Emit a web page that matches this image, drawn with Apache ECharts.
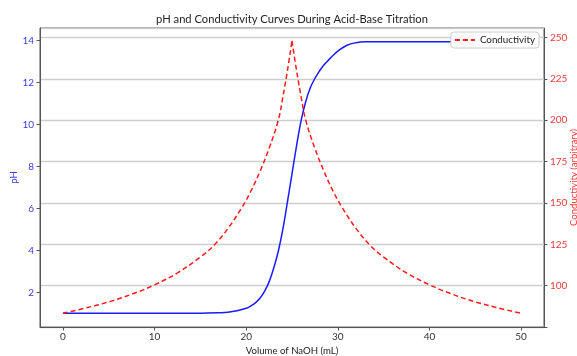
<!DOCTYPE html>
<html>
<head>
<meta charset="utf-8">
<script src="https://cdn.jsdelivr.net/npm/echarts@6/dist/echarts.min.js"></script>
<style>
html,body{margin:0;padding:0;background:#fff;}
#chart{width:577px;height:356px;}
</style>
</head>
<body>
<div id="chart"></div>
<script>
// Volume of NaOH (mL) and pH readings
const phVolume = [0, 5, 10, 15, 17, 18, 19, 20, 20.5, 21, 21.5, 22, 22.5, 23, 23.5, 24, 24.5, 25, 25.5, 26, 26.5, 27, 27.5, 28, 28.5, 29, 29.5, 30, 31, 32, 33, 35, 40, 45, 50];
const phValues = [1.0, 1.0, 1.0, 1.01, 1.03, 1.05, 1.12, 1.24, 1.35, 1.5, 1.72, 2.05, 2.5, 3.15, 3.95, 5.0, 6.3, 7.65, 9.0, 10.2, 11.1, 11.75, 12.2, 12.55, 12.85, 13.08, 13.3, 13.5, 13.78, 13.9, 13.94, 13.95, 13.95, 13.95, 13.95];

// Volume of NaOH (mL) and conductivity readings, before and after the equivalence point
const condVolumeBefore = [0, 2.5, 5, 7.5, 10, 12.5, 15, 16.5, 18, 19.5, 20.5, 21.5, 22.5, 23.5, 24, 24.5, 25];
const condValuesBefore = [83.3, 86.5, 90.2, 94.8, 100.5, 107.7, 117.3, 124.5, 134.5, 147, 157, 169, 183, 200, 214, 230, 248];
const condVolumeAfter = [25, 25.5, 26, 26.5, 27.5, 28.5, 29.5, 30.5, 32, 33.5, 35, 37.5, 40, 42.5, 45, 47.5, 50];
const condValuesAfter = [248, 230, 214, 200, 183, 169, 157, 147, 134.5, 124.5, 117.3, 107.7, 100.5, 94.8, 90.2, 86.5, 83.3];

const xTicks = [0, 10, 20, 30, 40, 50];
const phTicks = [2, 4, 6, 8, 10, 12, 14];

const font = 'Lato';
const condLine = { color: '#ff1a1a', width: 1.5, type: [5, 3] };
const chart = echarts.init(document.getElementById('chart'));
chart.setOption({
  animation: false,
  backgroundColor: '#fff',
  textStyle: { fontFamily: font },
  title: {
    text: 'pH and Conductivity Curves During Acid-Base Titration',
    left: 287, top: 9, textAlign: 'center',
    textStyle: { fontFamily: font, fontSize: 11.2, fontWeight: 'normal', color: '#222' }
  },
  legend: {
    data: ['Conductivity'],
    right: 38, top: 32,
    orient: 'vertical',
    backgroundColor: '#fff',
    borderColor: '#ccc', borderWidth: 1, borderRadius: 3,
    padding: [3, 4, 3, 3],
    itemWidth: 20, itemHeight: 10, itemGap: 4,
    itemStyle: { color: 'transparent', borderColor: 'transparent', borderWidth: 0, opacity: 0 },
    textStyle: { fontFamily: font, fontSize: 9.8, color: '#222' }
  },
  grid: {
    left: 40, right: 33, top: 28, bottom: 29,
    containLabel: false, outerBoundsMode: 'none',
    show: true, borderColor: '#555', borderWidth: 1, backgroundColor: 'transparent'
  },
  xAxis: {
    type: 'value', min: -2.5, max: 52.5,
    name: 'Volume of NaOH (mL)', nameLocation: 'middle', nameGap: 18.5, nameMoveOverlap: false,
    nameTextStyle: { fontFamily: font, fontSize: 9.6, color: '#222' },
    axisLine: { show: true, onZero: false, lineStyle: { color: '#555' } },
    axisTick: { show: true, length: 3.5, lineStyle: { color: '#555' }, customValues: xTicks },
    axisLabel: { fontFamily: font, fontSize: 10, color: '#333', margin: 5, customValues: xTicks },
    splitLine: { show: false }
  },
  yAxis: [{
    type: 'value', min: 0.35, max: 14.6, position: 'left',
    name: 'pH', nameLocation: 'middle', nameGap: 21, nameRotate: 90, nameMoveOverlap: false,
    nameTextStyle: { fontFamily: font, fontSize: 9.6, color: '#3a3af0' },
    axisLine: { show: true, onZero: false, lineStyle: { color: '#555' } },
    axisTick: { show: true, length: 3.5, lineStyle: { color: '#555' }, customValues: phTicks },
    axisLabel: { fontFamily: font, fontSize: 10, color: '#3a3af0', margin: 6, customValues: phTicks },
    splitLine: { show: false }
  }, {
    type: 'value', min: 75, max: 255.8, interval: 25, position: 'right',
    name: 'Conductivity (arbitrary)', nameLocation: 'middle', nameGap: 25, nameRotate: 90, nameMoveOverlap: false,
    nameTextStyle: { fontFamily: font, fontSize: 9.6, color: '#f03a3a' },
    axisLine: { show: true, onZero: false, lineStyle: { color: '#555' } },
    axisTick: { show: true, length: 3.5, lineStyle: { color: '#555' } },
    axisLabel: {
      fontFamily: font, fontSize: 10, color: '#f03a3a', margin: 6,
      formatter: v => (v < 90 ? '' : String(v))
    },
    splitLine: { show: true, lineStyle: { color: '#cfcfcf', width: 1.3 } }
  }],
  series: [{
    name: 'pH', type: 'line', yAxisIndex: 0,
    data: phVolume.map((v, i) => [v, phValues[i]]),
    showSymbol: false, symbol: 'none', smooth: 0.4,
    lineStyle: { color: '#1a1aff', width: 1.5 }, itemStyle: { color: '#1a1aff' }, z: 2
  }, {
    name: 'Conductivity', type: 'line', yAxisIndex: 1,
    data: condVolumeBefore.map((v, i) => [v, condValuesBefore[i]]),
    showSymbol: false, symbol: 'none', smooth: 0.4,
    lineStyle: condLine, itemStyle: { color: '#ff1a1a' }, z: 3
  }, {
    name: 'Conductivity', type: 'line', yAxisIndex: 1,
    data: condVolumeAfter.map((v, i) => [v, condValuesAfter[i]]),
    showSymbol: false, symbol: 'none', smooth: 0.4,
    lineStyle: condLine, itemStyle: { color: '#ff1a1a' }, z: 3
  }]
});
</script>
</body>
</html>
